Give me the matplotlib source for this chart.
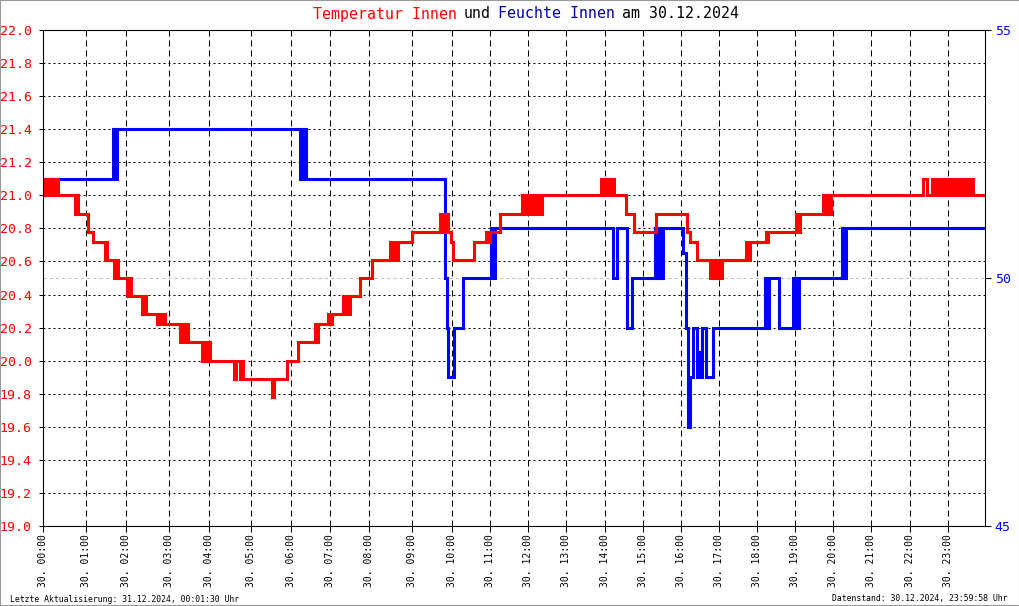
import matplotlib
matplotlib.use('Agg')
import matplotlib.pyplot as plt
import matplotlib.transforms as mtransforms
from matplotlib.patches import Rectangle
import numpy as np

# sample index at which each hour starts (logger does not sample evenly)
hour_idx = [0, 43, 83, 126, 166, 208, 248, 287, 326, 369, 409, 447,
            485, 523, 562, 600, 638, 676, 714, 752, 790, 828, 867, 905]
hour_labels = ['30. %02d:00' % h for h in range(24)]
n_samples = 942

# Temperatur Innen (degC), step changes: sample index -> value
temp_x = [0, 2, 4, 6, 8, 10, 12, 14, 15,
          32, 33, 35, 45, 50,
          62, 63, 64, 71, 73, 75, 84, 86, 88,
          99, 101, 103, 114, 116, 118, 120, 122,
          137, 139, 141, 143, 145, 159, 161, 163, 165, 167,
          191, 193, 197, 198, 200, 229, 231, 244, 255,
          272, 273, 275, 285, 287, 289,
          300, 302, 304, 306, 307, 317, 329,
          347, 349, 351, 353, 355, 369,
          397, 399, 401, 403, 404, 405, 408, 410, 431, 443, 445, 447, 457,
          479, 481, 483, 485, 487, 489, 491, 493, 495, 497, 499,
          558, 560, 562, 564, 566, 568, 570, 571, 583, 591, 613, 644, 647, 654,
          667, 669, 670, 672, 675, 677, 678, 679,
          703, 705, 707, 723, 724, 725, 753, 755, 757,
          780, 782, 784, 786, 788, 880, 884,
          889, 891, 892, 894, 895, 897, 898, 900, 901, 903,
          906, 908, 909, 911, 912, 914, 915, 917, 918, 920, 921, 923, 924, 926, 927, 930, 942]
temp_y = [21.0, 21.1, 21.0, 21.1, 21.0, 21.1, 21.0, 21.1, 21.0,
          20.89, 21.0, 20.89, 20.78, 20.72,
          20.61, 20.72, 20.61, 20.5, 20.61, 20.5, 20.39, 20.5, 20.39,
          20.28, 20.39, 20.28, 20.22, 20.28, 20.22, 20.28, 20.22,
          20.11, 20.22, 20.11, 20.22, 20.11, 20.0, 20.11, 20.0, 20.11, 20.0,
          19.89, 20.0, 19.89, 20.0, 19.89, 19.78, 19.89, 20.0, 20.11,
          20.22, 20.11, 20.22, 20.28, 20.22, 20.28,
          20.39, 20.28, 20.39, 20.28, 20.39, 20.5, 20.61,
          20.72, 20.61, 20.72, 20.61, 20.72, 20.78,
          20.89, 20.78, 20.89, 20.78, 20.89, 20.78, 20.72, 20.61, 20.72, 20.78, 20.72, 20.78, 20.89,
          21.0, 20.89, 21.0, 20.89, 21.0, 20.89, 21.0, 20.89, 21.0, 20.89, 21.0,
          21.1, 21.0, 21.1, 21.0, 21.1, 21.0, 21.1, 21.0, 20.89, 20.78, 20.89, 20.78, 20.72, 20.61,
          20.5, 20.61, 20.5, 20.61, 20.5, 20.61, 20.5, 20.61,
          20.72, 20.61, 20.72, 20.78, 20.72, 20.78, 20.89, 20.78, 20.89,
          21.0, 20.89, 21.0, 20.89, 21.0, 21.1, 21.0,
          21.1, 21.0, 21.1, 21.0, 21.1, 21.0, 21.1, 21.0, 21.1, 21.0,
          21.1, 21.0, 21.1, 21.0, 21.1, 21.0, 21.1, 21.0, 21.1, 21.0, 21.1, 21.0, 21.1, 21.0, 21.1, 21.0, 21.0]

# Feuchte Innen (%)
hum_x = [0, 70, 71, 72, 73, 74,
         257, 258, 259, 260, 261, 262, 263,
         402, 404, 405, 411, 420,
         448, 449, 450, 451, 452,
         570, 574, 584, 589,
         612, 613, 614, 615, 616, 617, 618, 619, 620,
         640, 643, 645, 647, 650, 654, 656, 657, 659, 663, 670,
         722, 723, 724, 725, 726, 736,
         750, 751, 752, 753, 754, 755, 756,
         799, 800, 801, 802, 803, 942]
hum_y = [52, 53, 52, 53, 52, 53,
         52, 53, 52, 53, 52, 53, 52,
         50, 49, 48, 49, 50,
         51, 50, 51, 50, 51,
         50, 51, 49, 50,
         51, 50, 51, 50, 51, 50, 51, 50, 51,
         50.5, 49, 47, 48, 49, 48, 48.5, 48, 49, 48, 49,
         50, 49, 50, 49, 50, 49,
         50, 49, 50, 49, 50, 49, 50,
         51, 50, 51, 50, 51, 51]

plt.rcParams['font.family'] = ['DejaVu Sans Mono']

W, H = 1020, 606
fig = plt.figure(figsize=(W / 100, H / 100), dpi=100)
ax = fig.add_axes([43 / W, 1 - 526 / H, 942 / W, 496 / H])
ax2 = ax.twinx()

ax.set_xlim(0, n_samples)
ax.set_ylim(19.0, 22.0)
ax2.set_ylim(45, 55)

# grid: dotted horizontal, dashed vertical
ax.set_axisbelow(True)
ax.set_yticks(np.arange(19.0, 22.01, 0.2))
ax.set_yticklabels(['%.1f' % v for v in np.arange(19.0, 22.01, 0.2)])
ax.yaxis.grid(True, color='black', lw=0.75, linestyle=(0, (1.9, 2.9)))
ax.set_xticks(hour_idx)
ax.set_xticklabels(hour_labels, rotation=90, va='top')
ax.xaxis.grid(True, color='black', lw=0.75, linestyle=(0, (5.8, 3.8)))

ax.tick_params(axis='y', labelcolor='red', labelsize=9.5, length=3,
               width=0.75, direction='out', pad=5)
ax.tick_params(axis='x', labelsize=7, length=4, width=0.75,
               direction='out', pad=1.5)
ax2.set_yticks([45, 50, 55])
ax2.tick_params(axis='y', labelcolor='blue', labelsize=9.5, length=4,
                width=0.75, direction='out', pad=3)
for a in (ax, ax2):
    for s in a.spines.values():
        s.set_linewidth(0.75)
        s.set_color('black')

# 50 % reference line
ref = ax.axhline(50, color='#c0c0c0', lw=0.75, linestyle=(0, (3, 3)), zorder=1.5)
ref.set_transform(mtransforms.blended_transform_factory(ax.transAxes, ax2.transData))

# humidity drawn in ax (with ax2 scale) so that red stays on top
ax.plot(hum_x, hum_y, drawstyle='steps-post', color='#0000ff', lw=2.2,
        transform=ax2.transData, zorder=2, solid_joinstyle='miter')
ax.plot(temp_x, temp_y, drawstyle='steps-post', color='#ff0000', lw=2.2,
        zorder=3, solid_joinstyle='miter')

# title in coloured pieces
ty = 1 - 14 / H
fig.text(313 / W, ty, 'Temperatur Innen', color='red', fontsize=10.7, va='center')
fig.text(464 / W, ty, 'und', color='black', fontsize=10.7, va='center')
fig.text(498 / W, ty, 'Feuchte Innen', color='#0000a0', fontsize=10.7, va='center')
fig.text(622 / W, ty, 'am 30.12.2024', color='black', fontsize=10.7, va='center')

fy = 1 - 599 / H
fig.text(10 / W, fy, 'Letzte Aktualisierung: 31.12.2024, 00:01:30 Uhr',
         fontsize=5.9, va='center')
fig.text(1008 / W, fy, 'Datenstand: 30.12.2024, 23:59:58 Uhr',
         fontsize=5.9, va='center', ha='right')

fig.patches.append(Rectangle((0, 0), 1, 1, transform=fig.transFigure,
                             fill=False, edgecolor='#999999', lw=1.5))

fig.savefig('out.png', dpi=100)
